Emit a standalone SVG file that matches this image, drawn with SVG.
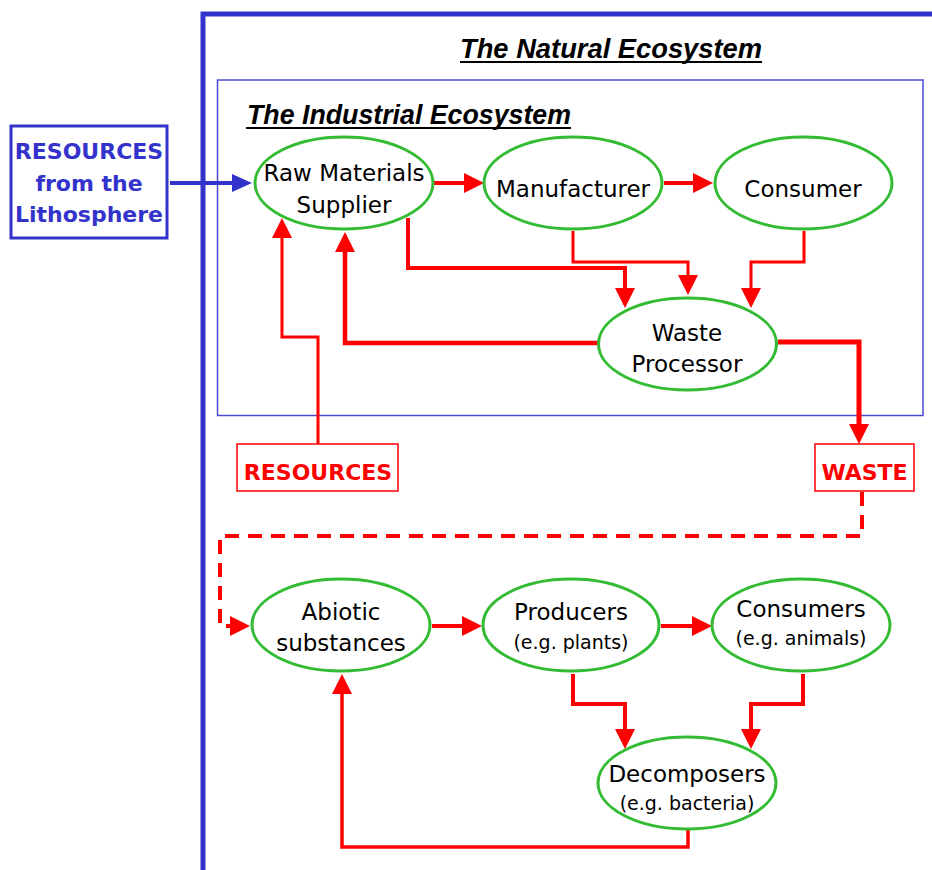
<svg xmlns="http://www.w3.org/2000/svg" width="932" height="870" viewBox="0 0 932 870">
<style>
.node ellipse{fill:#fff;stroke:#33bb33;stroke-width:3}
.lbl{font-family:"DejaVu Sans",sans-serif;font-size:23px;fill:#000;text-anchor:middle}
.sm{font-size:19px}
.title{font-family:"Liberation Sans",Arial,sans-serif;font-weight:bold;font-style:italic;font-size:27px;fill:#000}
.blue{font-family:"DejaVu Sans",sans-serif;font-weight:bold;font-size:22px;fill:#3333cc;text-anchor:middle}
.red{font-family:"DejaVu Sans",sans-serif;font-weight:bold;font-size:22px;fill:#ff0000;text-anchor:middle}
.c{fill:none;stroke:#ff0000;stroke-linejoin:miter;marker-end:url(#ar)}
</style>
<defs>
<marker id="ar" markerUnits="userSpaceOnUse" markerWidth="20" markerHeight="20" viewBox="0 0 20 20" refX="10" refY="10" orient="auto"><path d="M0,0 L20,10 L0,20 z" fill="#ff0000"/></marker>
<marker id="ab" markerUnits="userSpaceOnUse" markerWidth="20" markerHeight="18" viewBox="0 0 20 18" refX="10" refY="9" orient="auto"><path d="M0,0 L20,9 L0,18 z" fill="#3333cc"/></marker>
</defs>
<rect width="932" height="870" fill="#fff"/>
<g id="natural-frame">
<path d="M203,870 V14 H932" fill="none" stroke="#3333cc" stroke-width="5"/>
<text class="title" x="460" y="58" textLength="302" lengthAdjust="spacingAndGlyphs">The Natural Ecosystem</text>
<line x1="460" y1="62" x2="762" y2="62" stroke="#000" stroke-width="2"/>
</g>
<g id="industrial-frame">
<rect x="217.5" y="80" width="705.5" height="335.5" fill="none" stroke="#4a4ad6" stroke-width="1.5"/>
<text class="title" x="247" y="124" textLength="324" lengthAdjust="spacingAndGlyphs">The Industrial Ecosystem</text>
<line x1="246" y1="128" x2="571" y2="128" stroke="#000" stroke-width="2"/>
</g>
<g id="lithosphere">
<rect x="11" y="126" width="156" height="112" fill="#fff" stroke="#3333cc" stroke-width="3"/>
<text class="blue" x="89" y="159">RESOURCES</text>
<text class="blue" x="89" y="191">from the</text>
<text class="blue" x="89" y="222">Lithosphere</text>
</g>
<g id="resources">
<rect x="237" y="444" width="161" height="47" fill="#fff" stroke="#ff0000" stroke-width="1.5"/>
<text class="red" x="318" y="480">RESOURCES</text>
</g>
<g id="waste">
<rect x="815" y="444" width="99" height="47" fill="#fff" stroke="#ff0000" stroke-width="1.5"/>
<text class="red" x="864.5" y="480">WASTE</text>
</g>
<g id="connectors">
<path d="M170,183 H242" fill="none" stroke="#3333cc" stroke-width="4" marker-end="url(#ab)"/>
<path class="c" d="M434,183 H474" stroke-width="4"/>
<path class="c" d="M664,183 H703" stroke-width="4"/>
<path class="c" d="M408,218 V268 H625 V298" stroke-width="4"/>
<path class="c" d="M573,231 V262 H688 V285" stroke-width="3"/>
<path class="c" d="M804,231 V262 H751 V298" stroke-width="3"/>
<path class="c" d="M598,343 H345 V242" stroke-width="4.5"/>
<path class="c" d="M318,444 V337 H282 V228" stroke-width="3"/>
<path class="c" d="M778,342 H859 V434" stroke-width="5"/>
<path class="c" d="M862,492 V536 H220 V626 H240" stroke-width="4" stroke-dasharray="14 9"/>
<path class="c" d="M432,626 H472" stroke-width="4"/>
<path class="c" d="M661,626 H702" stroke-width="4"/>
<path class="c" d="M573,674 V704 H625 V739" stroke-width="4"/>
<path class="c" d="M803,674 V704 H751 V739" stroke-width="4"/>
<path class="c" d="M688,830 V847 H342 V684" stroke-width="3.5"/>
</g>
<g id="raw-materials" class="node">
<ellipse cx="344" cy="183" rx="89" ry="46"/>
<text class="lbl" x="344" y="181">Raw Materials</text>
<text class="lbl" x="344" y="213">Supplier</text>
</g>
<g id="manufacturer" class="node">
<ellipse cx="573" cy="183" rx="89" ry="46"/>
<text class="lbl" x="573" y="197">Manufacturer</text>
</g>
<g id="consumer" class="node">
<ellipse cx="803.5" cy="183" rx="88.5" ry="46"/>
<text class="lbl" x="803" y="197">Consumer</text>
</g>
<g id="waste-processor" class="node">
<ellipse cx="687.5" cy="344" rx="89" ry="46"/>
<text class="lbl" x="687" y="341">Waste</text>
<text class="lbl" x="687" y="372">Processor</text>
</g>
<g id="abiotic" class="node">
<ellipse cx="341" cy="625" rx="89" ry="46"/>
<text class="lbl" x="341" y="620">Abiotic</text>
<text class="lbl" x="341" y="651">substances</text>
</g>
<g id="producers" class="node">
<ellipse cx="571" cy="625" rx="88" ry="46"/>
<text class="lbl" x="571" y="620">Producers</text>
<text class="lbl sm" x="571" y="649">(e.g. plants)</text>
</g>
<g id="consumers" class="node">
<ellipse cx="801" cy="625" rx="89" ry="46"/>
<text class="lbl" x="801" y="617">Consumers</text>
<text class="lbl sm" x="801" y="645">(e.g. animals)</text>
</g>
<g id="decomposers" class="node">
<ellipse cx="687" cy="783" rx="89" ry="46"/>
<text class="lbl" x="687" y="782">Decomposers</text>
<text class="lbl sm" x="687" y="810">(e.g. bacteria)</text>
</g>
</svg>
